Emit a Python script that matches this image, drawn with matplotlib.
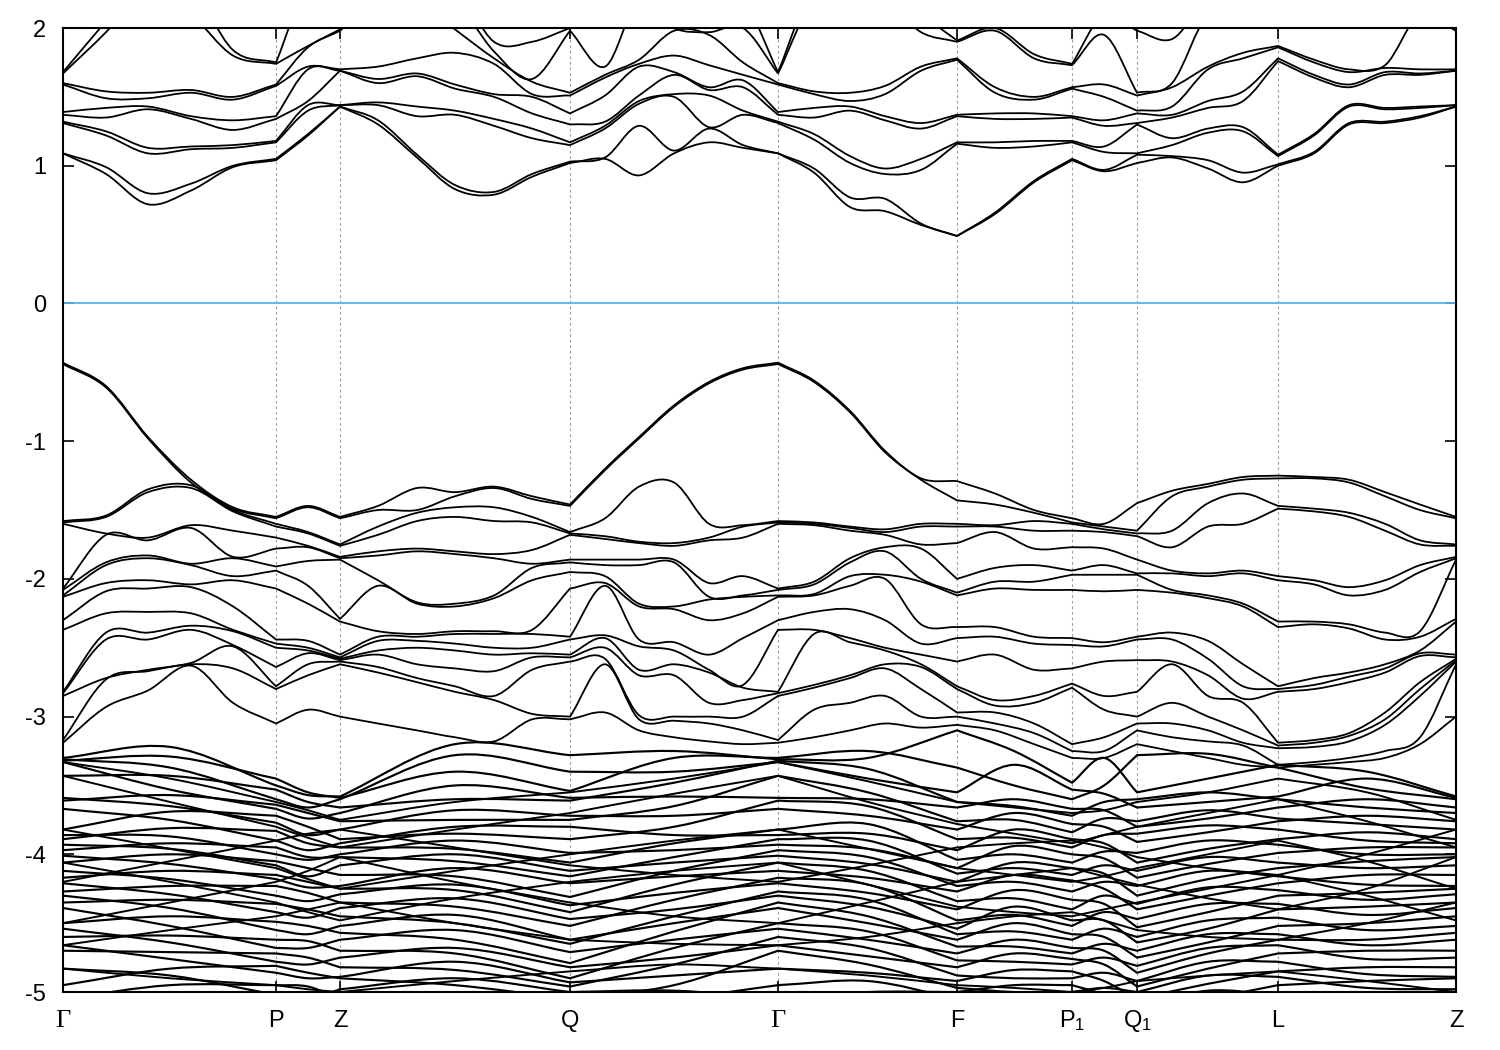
import numpy as np
import matplotlib
matplotlib.use("Agg")
import matplotlib.pyplot as plt
from matplotlib.path import Path
from matplotlib.patches import PathPatch

plt.rcParams['font.family'] = ['Liberation Sans', 'DejaVu Sans']
plt.rcParams['mathtext.fontset'] = 'custom'
plt.rcParams['mathtext.rm'] = 'Liberation Sans'
plt.rcParams['mathtext.it'] = 'Liberation Sans'
plt.rcParams['axes.unicode_minus'] = False

# high-symmetry points along the k-path
hs_k = [0.0, 0.213, 0.277, 0.507, 0.715, 0.894, 1.009, 1.074, 1.215, 1.393]
hs_labels = ['Γ', 'P', 'Z', 'Q', 'Γ', 'F', 'P$_1$', 'Q$_1$', 'L', 'Z']

# k grid used for the conduction / upper valence bands
k_fine = [0.0, 0.043, 0.085, 0.128, 0.170, 0.213, 0.245, 0.277, 0.315, 0.354,
          0.392, 0.431, 0.469, 0.507, 0.542, 0.576, 0.611, 0.646, 0.680, 0.715,
          0.751, 0.787, 0.822, 0.858, 0.894, 0.932, 0.971, 1.009, 1.041, 1.074,
          1.109, 1.145, 1.180, 1.215, 1.251, 1.286, 1.322, 1.357, 1.393]

# coarser k grid for the dense lower valence manifold
k_coarse = [0.0, 0.107, 0.213, 0.245, 0.277, 0.392, 0.507, 0.611, 0.715, 0.805,
            0.894, 0.951, 1.009, 1.041, 1.074, 1.145, 1.215, 1.304, 1.393]

# conduction band energies (eV), one row per k point in k_fine
cond_gamma = [1.09, 1.09, 1.31, 1.32, 1.37, 1.39, 1.59, 1.60, 1.67, 1.68]
cond_z = [1.43, 1.43, 1.44, 1.44, 1.69, 1.69, 1.70, 1.98, 1.99, 2.2]
cond = [
    cond_gamma,
    [0.94, 0.99, 1.22, 1.25, 1.35, 1.42, 1.49, 1.54, 1.97, 2.05],
    [0.72, 0.80, 1.09, 1.13, 1.41, 1.43, 1.49, 1.53, 2.3, 2.4],
    [0.82, 0.87, 1.12, 1.14, 1.34, 1.36, 1.53, 1.55, 2.1, 2.3],
    [0.99, 1.00, 1.13, 1.15, 1.26, 1.33, 1.48, 1.50, 1.80, 1.84],
    [1.04, 1.05, 1.17, 1.18, 1.34, 1.36, 1.58, 1.59, 1.74, 1.75],
    [1.22, 1.23, 1.40, 1.44, 1.47, 1.70, 1.72, 1.86, 1.87, 2.3],
    cond_z,
    [1.30, 1.33, 1.44, 1.46, 1.60, 1.63, 1.72, 2.2, 2.3, 2.4],
    [1.06, 1.08, 1.36, 1.43, 1.65, 1.67, 1.78, 2.2, 2.3, 2.4],
    [0.83, 0.86, 1.37, 1.40, 1.56, 1.59, 1.82, 1.99, 2.2, 2.3],
    [0.79, 0.81, 1.29, 1.34, 1.50, 1.52, 1.74, 1.78, 1.83, 1.90],
    [0.92, 0.94, 1.20, 1.27, 1.38, 1.50, 1.52, 1.61, 1.63, 1.90],
    [1.02, 1.03, 1.15, 1.17, 1.30, 1.38, 1.51, 1.53, 1.98, 2.0],
    [1.05, 1.06, 1.27, 1.29, 1.32, 1.51, 1.64, 1.66, 1.72, 2.2],
    [0.93, 1.29, 1.45, 1.47, 1.51, 1.72, 1.74, 1.77, 2.2, 2.3],
    [1.09, 1.11, 1.50, 1.52, 1.66, 1.68, 1.80, 1.98, 2.0, 2.3],
    [1.17, 1.27, 1.28, 1.51, 1.55, 1.57, 1.73, 1.95, 1.97, 2.2],
    [1.13, 1.15, 1.37, 1.40, 1.57, 1.62, 1.66, 1.75, 2.0, 2.2],
    cond_gamma,
    [0.95, 0.98, 1.19, 1.23, 1.35, 1.42, 1.52, 1.54, 2.2, 2.3],
    [0.70, 0.77, 1.02, 1.07, 1.40, 1.43, 1.47, 1.53, 2.2, 2.3],
    [0.67, 0.76, 0.94, 0.98, 1.33, 1.36, 1.52, 1.58, 2.2, 2.3],
    [0.57, 0.58, 0.97, 1.05, 1.27, 1.31, 1.69, 1.72, 1.97, 2.1],
    [0.49, 0.49, 1.16, 1.17, 1.36, 1.37, 1.77, 1.78, 1.90, 1.91],
    [0.65, 0.66, 1.13, 1.17, 1.34, 1.38, 1.53, 1.57, 1.98, 2.0],
    [0.88, 0.89, 1.14, 1.18, 1.34, 1.38, 1.48, 1.50, 1.78, 1.81],
    [1.04, 1.05, 1.17, 1.18, 1.35, 1.36, 1.56, 1.57, 1.73, 1.74],
    [0.96, 0.97, 1.10, 1.14, 1.29, 1.33, 1.50, 1.59, 1.95, 2.1],
    [1.02, 1.08, 1.09, 1.30, 1.31, 1.38, 1.40, 1.51, 1.53, 1.98],
    [1.06, 1.07, 1.15, 1.20, 1.35, 1.37, 1.43, 1.57, 1.60, 1.92],
    [0.98, 1.04, 1.24, 1.27, 1.42, 1.47, 1.70, 1.72, 2.1, 2.2],
    [0.88, 0.95, 1.25, 1.28, 1.47, 1.54, 1.78, 1.82, 2.1, 2.2],
    [1.00, 1.01, 1.07, 1.08, 1.76, 1.78, 1.86, 1.87, 2.2, 2.3],
    [1.09, 1.10, 1.22, 1.23, 1.64, 1.66, 1.75, 1.77, 2.2, 2.3],
    [1.30, 1.31, 1.43, 1.44, 1.57, 1.59, 1.68, 1.70, 2.2, 2.3],
    [1.31, 1.32, 1.41, 1.42, 1.66, 1.68, 1.71, 1.73, 2.2, 2.3],
    [1.35, 1.36, 1.42, 1.43, 1.66, 1.67, 1.70, 2.1, 2.2, 2.3],
    cond_z,
]

# upper valence bands (eV), one row per k point in k_fine
val_gamma = [-0.43, -0.44, -1.58, -1.59, -1.60, -2.07, -2.08, -2.12, -2.13, -2.30,
             -2.37, -2.82, -2.83, -2.85, -3.17, -3.19]
val_z = [-1.55, -1.56, -1.75, -1.76, -1.84, -1.85, -1.86, -2.29, -2.31, -2.55,
         -2.57, -2.58, -2.59, -2.60, -2.62, -3.00]
val = [
    val_gamma,
    [-0.60, -0.61, -1.54, -1.55, -1.67, -1.68, -1.88, -1.90, -2.03, -2.09, -2.25, -2.39, -2.44, -2.72, -2.73, -2.93],
    [-0.97, -0.98, -1.35, -1.37, -1.70, -1.72, -1.83, -1.85, -2.01, -2.07, -2.24, -2.39, -2.44, -2.66, -2.67, -2.81],
    [-1.28, -1.30, -1.32, -1.34, -1.61, -1.63, -1.89, -1.90, -2.04, -2.06, -2.25, -2.34, -2.37, -2.61, -2.62, -2.63],
    [-1.48, -1.49, -1.50, -1.51, -1.65, -1.84, -1.85, -1.98, -2.01, -2.20, -2.37, -2.38, -2.48, -2.49, -2.65, -2.90],
    [-1.55, -1.56, -1.60, -1.62, -1.70, -1.78, -1.91, -1.94, -2.07, -2.44, -2.47, -2.50, -2.64, -2.78, -2.80, -3.05],
    [-1.47, -1.48, -1.66, -1.67, -1.76, -1.77, -1.87, -2.05, -2.18, -2.45, -2.50, -2.52, -2.54, -2.62, -2.70, -2.95],
    val_z,
    [-1.47, -1.50, -1.62, -1.68, -1.80, -1.83, -2.01, -2.05, -2.38, -2.42, -2.45, -2.52, -2.55, -2.64, -2.68, -3.05],
    [-1.34, -1.50, -1.52, -1.58, -1.78, -1.80, -2.17, -2.18, -2.40, -2.42, -2.45, -2.50, -2.62, -2.72, -2.75, -3.10],
    [-1.37, -1.40, -1.48, -1.55, -1.80, -1.82, -2.18, -2.20, -2.38, -2.40, -2.47, -2.52, -2.65, -2.78, -2.82, -3.15],
    [-1.33, -1.34, -1.48, -1.58, -1.82, -1.85, -2.12, -2.14, -2.38, -2.40, -2.50, -2.55, -2.67, -2.85, -2.88, -3.18],
    [-1.40, -1.42, -1.55, -1.59, -1.79, -1.89, -1.92, -2.01, -2.37, -2.40, -2.50, -2.54, -2.57, -2.66, -2.98, -3.02],
    [-1.46, -1.47, -1.66, -1.67, -1.68, -1.86, -1.88, -1.95, -2.07, -2.42, -2.44, -2.55, -2.57, -2.60, -3.00, -3.02],
    [-1.20, -1.21, -1.56, -1.69, -1.71, -1.86, -1.90, -1.98, -2.03, -2.05, -2.41, -2.43, -2.50, -2.58, -2.62, -2.97],
    [-0.97, -0.98, -1.33, -1.73, -1.74, -1.86, -1.90, -2.18, -2.20, -2.44, -2.49, -2.66, -2.70, -2.99, -3.02, -3.10],
    [-0.74, -0.75, -1.30, -1.74, -1.76, -1.86, -1.88, -2.20, -2.22, -2.46, -2.52, -2.62, -2.70, -3.00, -3.03, -3.15],
    [-0.57, -0.58, -1.60, -1.70, -1.72, -2.03, -2.13, -2.15, -2.30, -2.55, -2.66, -2.68, -2.90, -3.00, -3.05, -3.18],
    [-0.47, -0.48, -1.61, -1.62, -1.70, -1.98, -2.12, -2.13, -2.25, -2.43, -2.77, -2.79, -2.88, -3.00, -3.10, -3.20],
    val_gamma,
    [-0.56, -0.57, -1.59, -1.60, -1.61, -2.02, -2.04, -2.11, -2.12, -2.24, -2.37, -2.40, -2.77, -2.79, -2.95, -3.15],
    [-0.78, -0.79, -1.62, -1.63, -1.65, -1.85, -1.88, -1.98, -2.05, -2.22, -2.43, -2.46, -2.70, -2.72, -2.90, -3.10],
    [-1.07, -1.08, -1.64, -1.66, -1.68, -1.77, -1.80, -1.97, -2.00, -2.30, -2.50, -2.52, -2.62, -2.65, -2.85, -3.05],
    [-1.27, -1.28, -1.60, -1.62, -1.75, -1.78, -2.00, -2.02, -2.33, -2.47, -2.55, -2.62, -2.64, -2.80, -3.00, -3.08],
    [-1.29, -1.43, -1.60, -1.62, -1.74, -2.00, -2.10, -2.12, -2.35, -2.43, -2.60, -2.78, -2.80, -2.97, -3.00, -3.06],
    [-1.38, -1.46, -1.61, -1.62, -1.66, -1.92, -2.02, -2.07, -2.35, -2.42, -2.55, -2.88, -2.92, -2.97, -3.05, -3.10],
    [-1.50, -1.52, -1.58, -1.65, -1.78, -1.90, -2.02, -2.08, -2.42, -2.47, -2.66, -2.85, -2.90, -3.05, -3.12, -3.20],
    [-1.56, -1.59, -1.60, -1.65, -1.77, -1.94, -1.97, -2.08, -2.43, -2.48, -2.65, -2.76, -2.79, -3.20, -3.25, -3.30],
    [-1.60, -1.62, -1.64, -1.66, -1.78, -1.90, -1.97, -2.09, -2.46, -2.49, -2.60, -2.85, -2.95, -3.15, -3.25, -3.30],
    [-1.45, -1.65, -1.67, -1.69, -1.86, -1.96, -1.97, -2.08, -2.42, -2.44, -2.59, -2.82, -3.00, -3.05, -3.10, -3.20],
    [-1.36, -1.40, -1.65, -1.77, -1.94, -1.96, -2.08, -2.10, -2.39, -2.44, -2.60, -2.62, -2.90, -3.05, -3.15, -3.25],
    [-1.31, -1.33, -1.45, -1.62, -1.96, -1.98, -2.12, -2.14, -2.45, -2.58, -2.70, -2.85, -3.00, -3.10, -3.18, -3.30],
    [-1.26, -1.28, -1.38, -1.60, -1.94, -1.96, -2.18, -2.20, -2.62, -2.78, -2.87, -2.90, -3.10, -3.19, -3.21, -3.35],
    [-1.25, -1.27, -1.47, -1.49, -1.98, -2.01, -2.31, -2.35, -2.78, -2.80, -2.82, -3.19, -3.21, -3.23, -3.35, -3.37],
    [-1.26, -1.27, -1.49, -1.51, -2.01, -2.04, -2.31, -2.33, -2.72, -2.77, -2.80, -3.17, -3.19, -3.22, -3.33, -3.35],
    [-1.28, -1.30, -1.52, -1.55, -2.06, -2.12, -2.33, -2.36, -2.68, -2.71, -2.75, -3.12, -3.14, -3.18, -3.30, -3.33],
    [-1.37, -1.40, -1.60, -1.65, -2.01, -2.08, -2.39, -2.44, -2.62, -2.65, -2.68, -2.97, -3.02, -3.06, -3.25, -3.30],
    [-1.46, -1.50, -1.72, -1.75, -1.90, -1.95, -2.38, -2.42, -2.52, -2.54, -2.56, -2.75, -2.80, -2.85, -3.15, -3.20],
    val_z,
]

# dense lower valence manifold (eV), one row per k point in k_coarse
deep_gamma = [-3.30, -3.31, -3.32, -3.33, -3.43, -3.59, -3.61, -3.67, -3.82, -3.86,
              -3.89, -3.93, -3.97, -4.01, -4.06, -4.12, -4.17, -4.21, -4.27, -4.30,
              -4.35, -4.39, -4.50, -4.54, -4.60, -4.66, -4.70, -4.83, -4.95, -5.05]
deep_z = [-3.58, -3.59, -3.60, -3.66, -3.70, -3.76, -3.82, -3.89, -3.92, -3.95,
          -4.00, -4.02, -4.08, -4.15, -4.23, -4.25, -4.29, -4.35, -4.39, -4.45,
          -4.52, -4.57, -4.62, -4.70, -4.75, -4.82, -4.89, -4.90, -4.98, -5.05]
deep = [
    deep_gamma,
    [-3.22, -3.29, -3.37, -3.43, -3.53, -3.57, -3.65, -3.69, -3.75, -3.81, -3.87, -3.92, -3.96, -4.00, -4.07,
     -4.12, -4.18, -4.23, -4.29, -4.33, -4.39, -4.45, -4.52, -4.59, -4.64, -4.71, -4.76, -4.83, -4.88, -4.95],
    [-3.45, -3.50, -3.53, -3.60, -3.64, -3.67, -3.72, -3.77, -3.83, -3.90, -3.95, -4.00, -4.05, -4.08, -4.15,
     -4.18, -4.23, -4.30, -4.36, -4.42, -4.49, -4.55, -4.62, -4.68, -4.72, -4.78, -4.81, -4.86, -4.95, -5.02],
    [-3.55, -3.57, -3.62, -3.66, -3.70, -3.74, -3.80, -3.86, -3.92, -3.97, -4.02, -4.04, -4.10, -4.16, -4.20,
     -4.24, -4.28, -4.34, -4.40, -4.46, -4.52, -4.58, -4.63, -4.68, -4.75, -4.80, -4.86, -4.90, -4.96, -5.05],
    deep_z,
    [-3.20, -3.28, -3.40, -3.50, -3.60, -3.68, -3.75, -3.80, -3.85, -3.90, -3.96, -4.00, -4.05, -4.10, -4.16,
     -4.22, -4.26, -4.32, -4.38, -4.44, -4.50, -4.55, -4.62, -4.68, -4.72, -4.78, -4.84, -4.90, -4.95, -5.02],
    [-3.28, -3.40, -3.54, -3.59, -3.61, -3.72, -3.75, -3.80, -3.89, -3.99, -4.06, -4.12, -4.16, -4.21, -4.31,
     -4.37, -4.42, -4.47, -4.52, -4.62, -4.65, -4.71, -4.79, -4.82, -4.90, -4.93, -4.96, -5.00, -5.05, -5.10],
    [-3.25, -3.30, -3.40, -3.48, -3.58, -3.65, -3.72, -3.80, -3.86, -3.92, -3.97, -4.02, -4.06, -4.12, -4.16,
     -4.22, -4.28, -4.33, -4.40, -4.45, -4.50, -4.56, -4.62, -4.68, -4.75, -4.80, -4.88, -4.95, -4.99, -5.05],
    deep_gamma,
    [-3.25, -3.30, -3.38, -3.45, -3.55, -3.60, -3.65, -3.72, -3.78, -3.85, -3.90, -3.96, -4.02, -4.07, -4.12,
     -4.17, -4.22, -4.28, -4.33, -4.38, -4.45, -4.50, -4.56, -4.62, -4.68, -4.74, -4.80, -4.86, -4.92, -5.00],
    [-3.10, -3.37, -3.55, -3.62, -3.66, -3.76, -3.82, -3.89, -3.97, -4.04, -4.10, -4.14, -4.20, -4.23, -4.27,
     -4.34, -4.40, -4.48, -4.54, -4.58, -4.62, -4.67, -4.72, -4.77, -4.82, -4.88, -4.92, -4.97, -5.00, -5.05],
    [-3.25, -3.35, -3.50, -3.60, -3.65, -3.70, -3.75, -3.82, -3.88, -3.94, -4.00, -4.06, -4.10, -4.15, -4.20,
     -4.26, -4.32, -4.38, -4.44, -4.50, -4.56, -4.62, -4.67, -4.72, -4.78, -4.84, -4.90, -4.95, -5.00, -5.05],
    [-3.48, -3.53, -3.60, -3.67, -3.72, -3.78, -3.84, -3.89, -3.95, -4.00, -4.06, -4.10, -4.15, -4.19, -4.27,
     -4.33, -4.40, -4.48, -4.52, -4.58, -4.62, -4.68, -4.72, -4.76, -4.80, -4.85, -4.90, -4.95, -5.00, -5.05],
    [-3.30, -3.50, -3.56, -3.62, -3.68, -3.74, -3.80, -3.86, -3.92, -3.98, -4.03, -4.08, -4.14, -4.20, -4.25,
     -4.30, -4.36, -4.42, -4.48, -4.54, -4.60, -4.65, -4.70, -4.75, -4.80, -4.86, -4.92, -4.97, -5.02, -5.08],
    [-3.28, -3.55, -3.60, -3.66, -3.76, -3.80, -3.85, -3.91, -3.99, -4.06, -4.12, -4.17, -4.23, -4.30, -4.36,
     -4.40, -4.47, -4.53, -4.60, -4.64, -4.70, -4.75, -4.81, -4.86, -4.92, -4.96, -5.00, -5.05, -5.10, -5.15],
    [-3.27, -3.45, -3.55, -3.62, -3.68, -3.74, -3.79, -3.84, -3.90, -3.96, -4.02, -4.07, -4.12, -4.18, -4.24,
     -4.30, -4.36, -4.42, -4.48, -4.54, -4.58, -4.64, -4.68, -4.72, -4.78, -4.83, -4.88, -4.94, -4.99, -5.05],
    [-3.35, -3.37, -3.58, -3.60, -3.66, -3.74, -3.76, -3.82, -3.89, -3.93, -3.99, -4.06, -4.10, -4.16, -4.21,
     -4.26, -4.30, -4.36, -4.40, -4.46, -4.52, -4.58, -4.62, -4.66, -4.72, -4.78, -4.85, -4.89, -4.95, -5.02],
    [-3.40, -3.45, -3.52, -3.60, -3.66, -3.72, -3.78, -3.84, -3.90, -3.95, -4.00, -4.05, -4.10, -4.15, -4.22,
     -4.28, -4.33, -4.38, -4.44, -4.50, -4.55, -4.62, -4.66, -4.70, -4.76, -4.82, -4.87, -4.92, -4.97, -5.03],
    deep_z,
]

# a few strongly dispersing bands that cut across the dense manifold (k_coarse grid)
disp_a = [-3.33, -3.45, -3.62, -3.68, -3.75, -3.62, -3.55, -3.45, -3.33, -3.47, -3.62, -3.66, -3.70, -3.68, -3.62, -3.55, -3.45, -3.55, -3.75]
disp_b = [-3.43, -3.62, -3.80, -3.88, -3.95, -3.82, -3.70, -3.56, -3.43, -3.62, -3.78, -3.85, -3.92, -3.86, -3.80, -3.70, -3.60, -3.76, -3.95]
disp_c = [-3.82, -3.96, -4.10, -4.18, -4.25, -4.12, -4.00, -3.90, -3.82, -3.96, -4.10, -4.15, -4.20, -4.16, -4.10, -4.00, -3.90, -4.05, -4.25]
disp_d = [-4.06, -4.20, -4.35, -4.42, -4.48, -4.32, -4.20, -4.12, -4.06, -4.22, -4.38, -4.42, -4.45, -4.40, -4.35, -4.25, -4.15, -4.30, -4.48]
disp_e = [-4.50, -4.35, -4.20, -4.12, -4.02, -4.20, -4.35, -4.45, -4.50, -4.35, -4.20, -4.15, -4.10, -4.16, -4.22, -4.32, -4.40, -4.25, -4.02]
disp_f = [-4.66, -4.55, -4.45, -4.40, -4.35, -4.50, -4.62, -4.65, -4.66, -4.60, -4.50, -4.45, -4.42, -4.48, -4.55, -4.60, -4.62, -4.50, -4.35]
disp_g = [-4.20, -4.05, -3.90, -3.85, -3.82, -3.95, -4.08, -4.15, -4.20, -4.08, -3.95, -3.92, -3.90, -3.95, -4.02, -4.10, -4.15, -4.00, -3.82]
disp_h = [-4.83, -4.90, -4.95, -4.98, -5.00, -4.92, -4.85, -4.80, -4.83, -4.88, -4.95, -4.97, -5.00, -4.97, -4.92, -4.88, -4.85, -4.92, -5.00]
disp = [disp_a, disp_b, disp_c, disp_d, disp_e, disp_f, disp_g, disp_h]


def smooth_path(x, y, breaks):
    # Catmull-Rom style bezier through the points, kinked at high-symmetry points
    verts = [(x[0], y[0])]
    codes = [Path.MOVETO]
    n = len(x)
    for i in range(n - 1):
        lo = max(b for b in breaks if b <= i)
        hi = min(b for b in breaks if b >= i + 1)
        i0 = max(i - 1, lo)
        i3 = min(i + 2, hi)
        s0 = 6.0 if i0 < i else 3.0
        s1 = 6.0 if i3 > i + 1 else 3.0
        c1 = (x[i] + (x[i + 1] - x[i0]) / s0, y[i] + (y[i + 1] - y[i0]) / s0)
        c2 = (x[i + 1] - (x[i3] - x[i]) / s1, y[i + 1] - (y[i3] - y[i]) / s1)
        verts += [c1, c2, (x[i + 1], y[i + 1])]
        codes += [Path.CURVE4] * 3
    return Path(verts, codes)


def braid(table):
    # connect neighbouring levels alternately so that the dense bands cross
    arr = np.array(table)
    out = arr.copy()
    perm = np.arange(arr.shape[1])
    for j in range(1, arr.shape[0]):
        p = perm.copy()
        start = j % 2
        for i in range(start, len(p) - 1, 2):
            p[i], p[i + 1] = perm[i + 1], perm[i]
        perm = p if j % 3 else perm
        out[j] = arr[j][np.argsort(perm)]
    return out


fig = plt.figure(figsize=(15, 10.5), dpi=100)
ax = fig.add_axes([0.042, 0.0552, 0.9287, 0.9181])

for table, kk, lw in [(np.array(cond), k_fine, 1.3), (np.array(val), k_fine, 1.3),
                      (braid(deep), k_coarse, 1.55), (np.array(disp).T, k_coarse, 1.4)]:
    kk = np.array(kk)
    breaks = [int(np.argmin(abs(kk - h))) for h in hs_k]
    for b in table.T:
        ax.add_patch(PathPatch(smooth_path(kk, b, breaks), fill=False,
                               edgecolor='black', lw=lw, capstyle='round'))

for k in hs_k[1:-1]:
    ax.axvline(k, color='#a0a0a0', lw=0.8, ls=(0, (2.5, 2.5)), zorder=0)
ax.axhline(0, color='#56b4e9', lw=1.3)

ax.set_xlim(hs_k[0], hs_k[-1])
ax.set_ylim(-5, 2)
ax.set_xticks(hs_k)
ax.set_xticklabels([''] * len(hs_k))
ax.set_yticks(range(-5, 3))
ax.tick_params(direction='in', length=8, width=1.2, labelsize=17,
               top=True, right=True)
ax.tick_params(axis='y', pad=12)
for k, lab in zip(hs_k, hs_labels):
    fam = ['Liberation Serif', 'DejaVu Serif'] if lab == 'Γ' else ['Liberation Sans', 'DejaVu Sans']
    ax.text(k, -0.03, lab, transform=ax.get_xaxis_transform(), ha='center',
            va='center', fontsize=19 if lab == 'Γ' else 17, family=fam)
for s in ax.spines.values():
    s.set_linewidth(1.5)

fig.savefig('out.png', dpi=100)
